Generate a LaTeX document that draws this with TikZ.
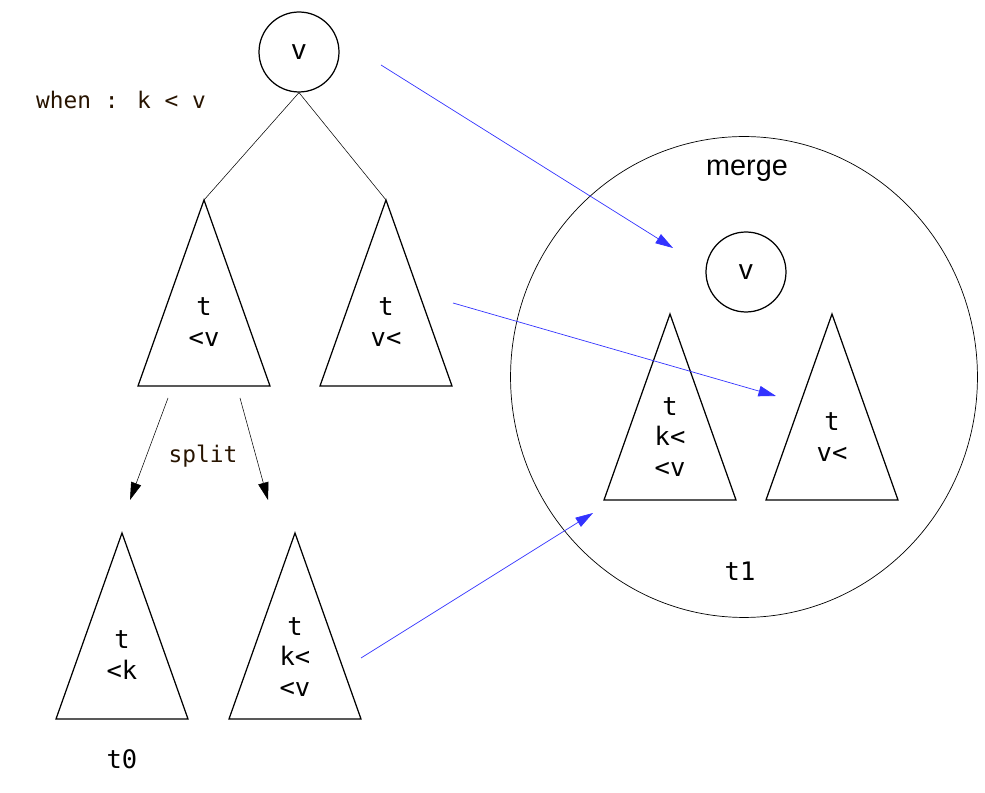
\documentclass[tikz,border=0pt]{standalone}
\usepackage{fontspec}
\setmainfont{Liberation Sans}
\newfontfamily\mono{DejaVu Sans Mono}
\usetikzlibrary{arrows.meta, shapes.geometric}
\definecolor{ink}{RGB}{40,20,0}
\definecolor{arr}{RGB}{51,51,255}
% triangle with apex at the named coordinate
\newcommand\tri[1]{\draw[line width=0.7pt] (#1) -- ++(-66,186) -- ++(132,0) -- cycle;}

\begin{document}
\begin{tikzpicture}[x=0.02cm, y=-0.02cm,
    c/.style = {draw, circle, line width=0.7pt, minimum size=1.6cm, inner sep=0pt, font=\fontsize{16}{18}\selectfont},
    tx/.style = {align=center, font=\mono\fontsize{14.5}{17.6}\selectfont},
    note/.style = {text=ink, font=\mono\fontsize{13}{15}\selectfont},
    sp/.style = {line width=0.3pt, -{Triangle[length=10pt,width=6pt]}},
    bl/.style = {draw=arr, line width=0.4pt, -{Triangle[length=10pt,width=6pt]}}]
  \useasboundingbox (0,0) rectangle (985,793);

  % left tree
  \node[c] (v0) at (299,52) {v};
  \node[note] (when) at (121,100) {when : k < v};
  \coordinate (a0) at (204,200);
  \coordinate (a1) at (386,200);
  \tri{a0} \tri{a1}
  \node[tx] (l0) at (204,322) {t\\<v};
  \node[tx] (l1) at (386,322) {t\\v<};
  \draw[line width=0.3pt] (v0.south) -- (a0);
  \draw[line width=0.3pt] (v0.south) -- (a1);

  % split
  \coordinate (s0) at (168,398);
  \coordinate (s1) at (240,398);
  \coordinate (e0) at (130,500);
  \coordinate (e1) at (268,500);
  \draw[sp] (s0) -- (e0);
  \draw[sp] (s1) -- (e1);
  \node[note] (split) at (203,456) {split};

  \coordinate (a2) at (122,533);
  \coordinate (a3) at (295,533);
  \tri{a2} \tri{a3}
  \node[tx] (l2) at (122,655) {t\\<k};
  \node[tx] (l3) at (295,657) {t\\k<\\<v};
  \node[tx] (t0) at (122,759) {t0};

  % merge
  \node[draw, ellipse, line width=0.4pt, minimum width=9.34cm, minimum height=9.62cm] (m) at (744,377) {};
  \node (merge) at (747,171) {\fontsize{16.4}{18}\selectfont merge};
  \node[c] (v1) at (746,272) {v};
  \coordinate (a4) at (670,314);
  \coordinate (a5) at (832,314);
  \tri{a4} \tri{a5}
  \node[tx] (l4) at (670,437) {t\\k<\\<v};
  \node[tx] (l5) at (832,437) {t\\v<};
  \node[tx] (t1) at (740,571) {t1};

  % moves
  \coordinate (f0) at (381,65);
  \coordinate (g0) at (673,248);
  \coordinate (f1) at (453,303);
  \coordinate (g1) at (776,396);
  \coordinate (f2) at (361,658);
  \coordinate (g2) at (593,513);
  \draw[bl] (f0) -- (g0);
  \draw[bl] (f1) -- (g1);
  \draw[bl] (f2) -- (g2);
\end{tikzpicture}
\end{document}
